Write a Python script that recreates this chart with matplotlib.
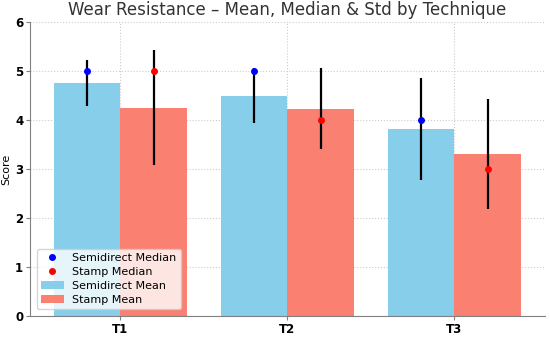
import numpy as np
import matplotlib.pyplot as plt

# data
techniques = ["T1", "T2", "T3"]
semi_mean = [4.75, 4.49, 3.82]
semi_std = [0.47, 0.56, 1.04]
semi_median = [5, 5, 4]
stamp_mean = [4.25, 4.23, 3.31]
stamp_std = [1.17, 0.83, 1.12]
stamp_median = [5, 4, 3]

x = np.arange(len(techniques))
w = 0.4

fig, ax = plt.subplots(figsize=(5.5, 3.37), dpi=100)

ax.bar(x - w/2, semi_mean, w, color="skyblue", label="Semidirect Mean", zorder=2)
ax.bar(x + w/2, stamp_mean, w, color="salmon", label="Stamp Mean", zorder=2)
ax.errorbar(x - w/2, semi_mean, yerr=semi_std, fmt="none", ecolor="black", elinewidth=1.6, zorder=3)
ax.errorbar(x + w/2, stamp_mean, yerr=stamp_std, fmt="none", ecolor="black", elinewidth=1.6, zorder=3)
ax.plot(x - w/2, semi_median, "o", color="blue", markersize=4, linestyle="none", label="Semidirect Median", zorder=4)
ax.plot(x + w/2, stamp_median, "o", color="red", markersize=4, linestyle="none", label="Stamp Median", zorder=4)

ax.set_ylim(0, 6)
ax.set_xticks(x)
ax.set_xticklabels(techniques, fontweight="bold")
for lab in ax.get_yticklabels():
    lab.set_fontweight("bold")
ax.tick_params(labelsize=8.5, length=3, pad=2, color="gray")
ax.set_ylabel("Score", fontsize=8, labelpad=3)
ax.set_title("Wear Resistance – Mean, Median & Std by Technique", fontsize=12, color="#333333", pad=5)

ax.grid(True, linestyle=":", color="#cccccc", linewidth=0.8, zorder=0)
ax.set_axisbelow(True)
for s in ["top", "right"]:
    ax.spines[s].set_visible(False)
for s in ["left", "bottom"]:
    ax.spines[s].set_color("gray")

ax.legend(loc="lower left", fontsize=8, framealpha=0.8, handletextpad=0.8,
          borderaxespad=0.6, labelspacing=0.35)

plt.subplots_adjust(left=0.055, right=0.99, top=0.935, bottom=0.062)
plt.savefig("out.png", dpi=100)
